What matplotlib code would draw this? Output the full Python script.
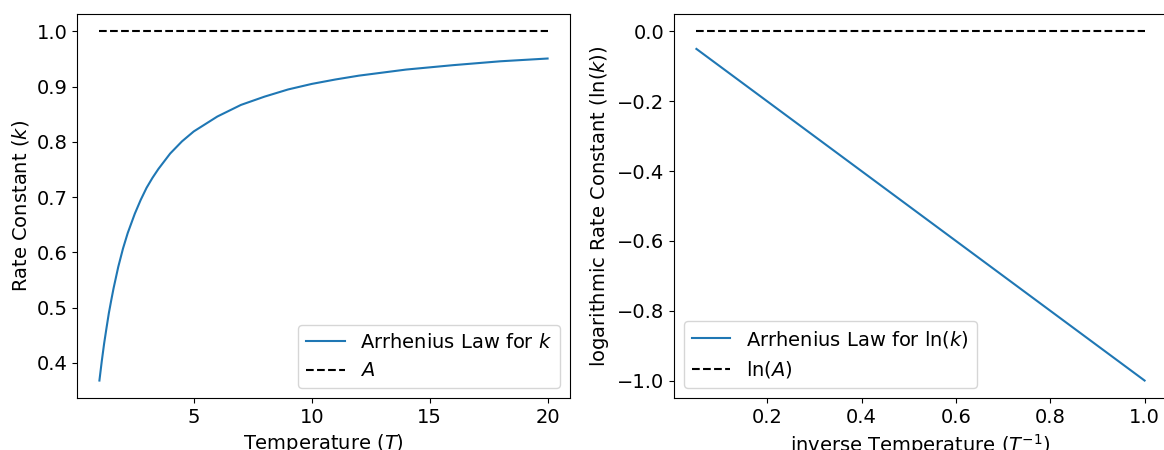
import numpy as np
import matplotlib
matplotlib.use("Agg")
from matplotlib import pyplot as plt

# rate constant k read at a set of temperatures
temps = [1, 1.1, 1.2, 1.3, 1.4, 1.5, 1.6, 1.8, 2, 2.2, 2.5, 2.75, 3, 3.25, 3.5,
         4, 4.5, 5, 6, 7, 8, 9, 10, 11, 12, 14, 16, 18, 20]
k_vals = [0.368, 0.403, 0.435, 0.463, 0.490, 0.513, 0.535, 0.574, 0.607, 0.635,
          0.670, 0.695, 0.717, 0.735, 0.751, 0.779, 0.801, 0.819, 0.846, 0.867,
          0.882, 0.895, 0.905, 0.913, 0.920, 0.931, 0.939, 0.946, 0.951]
A_val = 1.0

# log form against inverse temperature
inv_temps = [0.05, 0.1, 0.2, 0.4, 0.6, 0.8, 1.0]
ln_k = [-0.05, -0.1, -0.2, -0.4, -0.6, -0.8, -1.0]
ln_A = 0.0

plt.rcParams['font.size'] = 14

fig = plt.figure(figsize=(11.64, 4.5), dpi=100)
W, H = 1164, 450
ax1 = fig.add_axes([77 / W, 52 / H, 493 / W, 384 / H])
ax2 = fig.add_axes([674 / W, 52 / H, 493 / W, 384 / H])

ax1.plot(temps, k_vals, label='Arrhenius Law for $k$')
ax1.plot([temps[0], temps[-1]], [A_val, A_val], 'k--', label='$A$')
ax1.set_xlabel('Temperature ($T$)')
ax1.set_ylabel('Rate Constant ($k$)')
ax1.legend(loc='lower right')

ax2.plot(inv_temps, ln_k, label='Arrhenius Law for ln($k$)')
ax2.plot([inv_temps[0], inv_temps[-1]], [ln_A, ln_A], 'k--', label='ln($A$)')
ax2.set_xlabel('inverse Temperature ($T^{-1}$)')
ax2.set_ylabel('logarithmic Rate Constant (ln($k$))')
ax2.legend(loc='lower left')

fig.savefig('out.png', dpi=100)
